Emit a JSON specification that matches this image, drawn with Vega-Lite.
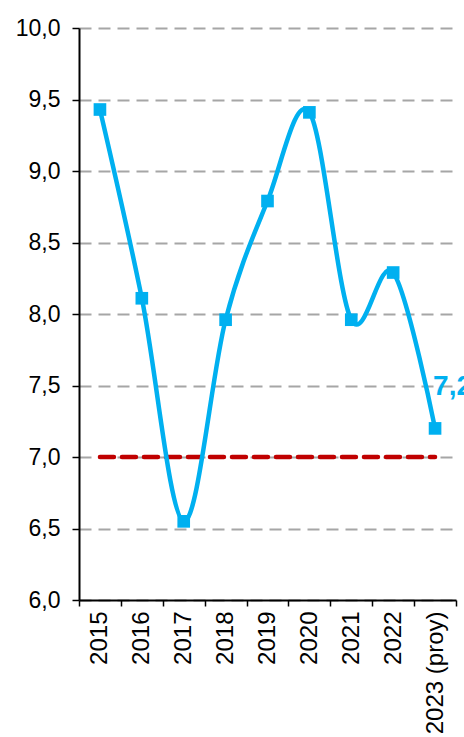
{
  "$schema": "https://vega.github.io/schema/vega-lite/v6.json",
  "autosize": "none",
  "width": 377,
  "height": 572,
  "padding": {"left": 79, "top": 28, "right": 8, "bottom": 137},
  "background": "white",
  "data": {
    "values": [
      {"year": "2015", "value": 9.43, "meta": 7.0, "label": ""},
      {"year": "2016", "value": 8.11, "meta": 7.0, "label": ""},
      {"year": "2017", "value": 6.55, "meta": 7.0, "label": ""},
      {"year": "2018", "value": 7.96, "meta": 7.0, "label": ""},
      {"year": "2019", "value": 8.79, "meta": 7.0, "label": ""},
      {"year": "2020", "value": 9.41, "meta": 7.0, "label": ""},
      {"year": "2021", "value": 7.96, "meta": 7.0, "label": ""},
      {"year": "2022", "value": 8.29, "meta": 7.0, "label": ""},
      {"year": "2023 (proy)", "value": 7.2, "meta": 7.0, "label": "7,2"}
    ]
  },
  "encoding": {
    "x": {
      "field": "year",
      "type": "nominal",
      "sort": null,
      "title": null,
      "scale": {"paddingInner": 0, "paddingOuter": 0},
      "axis": {
        "labelAngle": -90,
        "labelFont": "Liberation Sans",
        "labelFontSize": 24,
        "labelColor": "black",
        "labelPadding": 5,
        "tickBand": "extent",
        "tickColor": "black",
        "tickWidth": 1.5,
        "tickSize": 6,
        "domainColor": "black",
        "domainWidth": 2,
        "grid": false
      }
    }
  },
  "layer": [
    {
      "mark": {"type": "line", "color": "#C00000", "strokeWidth": 4.5, "strokeDash": [14, 8], "strokeCap": "round"},
      "encoding": {
        "y": {"field": "meta", "type": "quantitative", "scale": {"domain": [6, 10]}}
      }
    },
    {
      "mark": {"type": "line", "color": "#00B0F0", "strokeWidth": 4.5, "interpolate": "cardinal"},
      "encoding": {
        "y": {
          "field": "value",
          "type": "quantitative",
          "scale": {"domain": [6, 10]},
          "title": null,
          "axis": {
            "values": [6, 6.5, 7, 7.5, 8, 8.5, 9, 9.5, 10],
            "labelExpr": "replace(format(datum.value, '.1f'), '.', ',')",
            "labelFont": "Liberation Sans",
            "labelFontSize": 23,
            "labelColor": "black",
            "labelPadding": 12,
            "tickColor": "black",
            "tickWidth": 1.5,
            "tickSize": 7,
            "domainColor": "black",
            "domainWidth": 2,
            "grid": true,
            "gridColor": "#A6A6A6",
            "gridWidth": 2,
            "gridDash": [12, 7]
          }
        }
      }
    },
    {
      "mark": {"type": "point", "shape": "square", "filled": true, "opacity": 1, "color": "#00B0F0", "size": 160},
      "encoding": {
        "y": {"field": "value", "type": "quantitative"}
      }
    },
    {
      "mark": {"type": "text", "color": "#00B0F0", "font": "Liberation Sans", "fontSize": 28, "fontWeight": "bold", "align": "left", "baseline": "middle", "dx": -2, "dy": -41},
      "encoding": {
        "y": {"field": "value", "type": "quantitative"},
        "text": {"field": "label"}
      }
    }
  ],
  "config": {"view": {"stroke": null}}
}
